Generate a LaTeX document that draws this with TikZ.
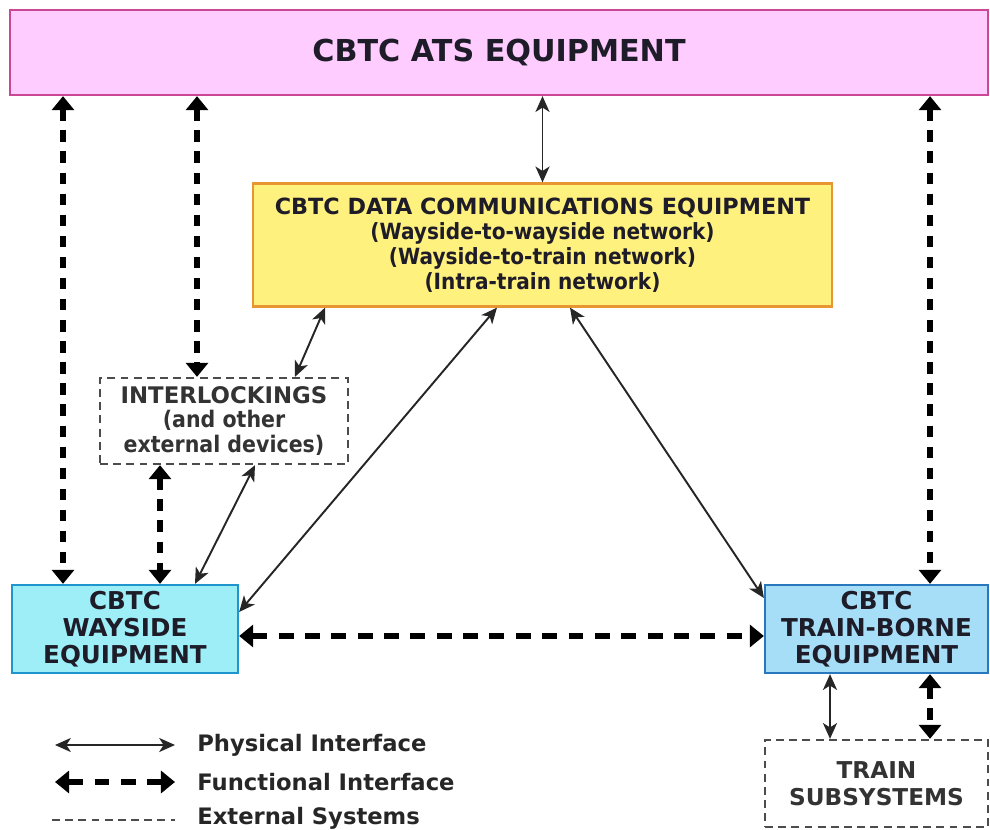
\documentclass[tikz,border=0pt]{standalone}
\usepackage{fontspec}
\setmainfont{DejaVu Sans}
\newfontfamily\narrowsans{DejaVu Sans}[FakeStretch=0.9]
\usepackage{xcolor}
\usepackage{tikz}
\usetikzlibrary{arrows.meta}

\definecolor{atsfill}{RGB}{255,204,255}
\definecolor{atsdraw}{RGB}{204,70,150}
\definecolor{commfill}{RGB}{255,241,125}
\definecolor{commdraw}{RGB}{232,150,50}
\definecolor{wayfill}{RGB}{158,238,248}
\definecolor{waydraw}{RGB}{30,150,205}
\definecolor{trainfill}{RGB}{166,222,247}
\definecolor{traindraw}{RGB}{40,120,190}
\definecolor{ink}{RGB}{30,28,40}

\begin{document}
\begin{tikzpicture}[
  x=0.02cm, y=-0.02cm,
  box/.style={line width=1.3pt, align=center, inner sep=0pt, text=ink, font=\bfseries},
  extbox/.style={draw=black!70, line width=1.3pt, dash pattern=on 4.5pt off 3pt, align=center, inner sep=0pt, text=black!80, font=\bfseries},
  phys/.style={{Stealth[length=9pt,width=8pt,inset=2.5pt]}-{Stealth[length=9pt,width=8pt,inset=2.5pt]}, line width=1.1pt, draw=black!85},
  func/.style={{Triangle[length=8pt,width=12.5pt]}-{Triangle[length=8pt,width=12.5pt]}, line width=3pt, dash pattern=on 6.5pt off 5.5pt, draw=black},
  legtext/.style={anchor=west, inner sep=0pt, text=black!85, font=\bfseries\fontsize{12.9}{14}\selectfont}
]
\useasboundingbox (0,0) rectangle (990,830);

\node[box, draw=atsdraw, fill=atsfill, minimum width=19.56cm, minimum height=1.7cm, font=\bfseries\fontsize{17.2}{19}\selectfont] (ats) at (499,52.5) {CBTC ATS EQUIPMENT};
\node[box, draw=commdraw, fill=commfill, minimum width=11.58cm, minimum height=2.46cm, font=\bfseries\fontsize{12.7}{14.3}\selectfont] (comm) at (542.5,245) {CBTC DATA COMMUNICATIONS EQUIPMENT\\{\narrowsans\bfseries (Wayside-to-wayside network)}\\{\narrowsans\bfseries (Wayside-to-train network)}\\{\narrowsans\bfseries (Intra-train network)}};
\node[extbox, minimum width=4.96cm, minimum height=1.72cm, font=\bfseries\fontsize{13}{13.9}\selectfont] (interlock) at (224,421) {INTERLOCKINGS\\{\narrowsans\bfseries (and other}\\{\narrowsans\bfseries external devices)}};
\node[box, draw=waydraw, fill=wayfill, minimum width=4.52cm, minimum height=1.76cm, font=\bfseries\fontsize{14}{15.2}\selectfont] (wayside) at (125,629) {CBTC\\WAYSIDE\\EQUIPMENT};
\node[box, draw=traindraw, fill=trainfill, minimum width=4.46cm, minimum height=1.76cm, font=\bfseries\fontsize{14}{15.2}\selectfont] (train) at (876.5,629) {CBTC\\TRAIN-BORNE\\EQUIPMENT};
\node[extbox, minimum width=4.46cm, minimum height=1.74cm, font=\bfseries\fontsize{13.2}{15.5}\selectfont] (subsys) at (876.5,783.5) {TRAIN\\SUBSYSTEMS};

\draw[phys] (ats.south -| comm.north) -- (comm.north);
\draw[phys] (comm.south -| 325,0) -- (interlock.north -| 295,0);
\draw[phys] (interlock.south -| 255,0) -- (wayside.north -| 195,0);
\draw[phys] (comm.south -| 497,0) -- (wayside.east |- 0,612);
\draw[phys] (comm.south -| 570,0) -- (train.west |- 0,598);
\draw[phys] (train.south -| 830,0) -- (subsys.north -| 830,0);

\draw[func] (ats.south -| 63,0) -- (wayside.north -| 63,0);
\draw[func] (ats.south -| 197,0) -- (interlock.north -| 197,0);
\draw[func] (ats.south -| 930,0) -- (train.north -| 930,0);
\draw[func] (interlock.south -| 160,0) -- (wayside.north -| 160,0);
\draw[func, dash pattern=on 8.5pt off 6.5pt] (wayside.east |- 0,636) -- (train.west |- 0,636);
\draw[func] (train.south -| 930,0) -- (subsys.north -| 930,0);

\coordinate (physA) at (55,745);
\coordinate (physB) at (175,745);
\coordinate (funcA) at (55,782);
\coordinate (funcB) at (175,782);
\coordinate (extA) at (52,820);
\coordinate (extB) at (175,820);
\draw[phys] (physA) -- (physB);
\draw[func, dash pattern=on 8.5pt off 6.5pt] (funcA) -- (funcB);
\draw[draw=black!70, line width=1.3pt, dash pattern=on 4.5pt off 3pt] (extA) -- (extB);
\node[legtext] (physlabel) at (197,745) {Physical Interface};
\node[legtext] (funclabel) at (197,782) {Functional Interface};
\node[legtext] (extlabel) at (197,818) {External Systems};
\end{tikzpicture}
\end{document}
